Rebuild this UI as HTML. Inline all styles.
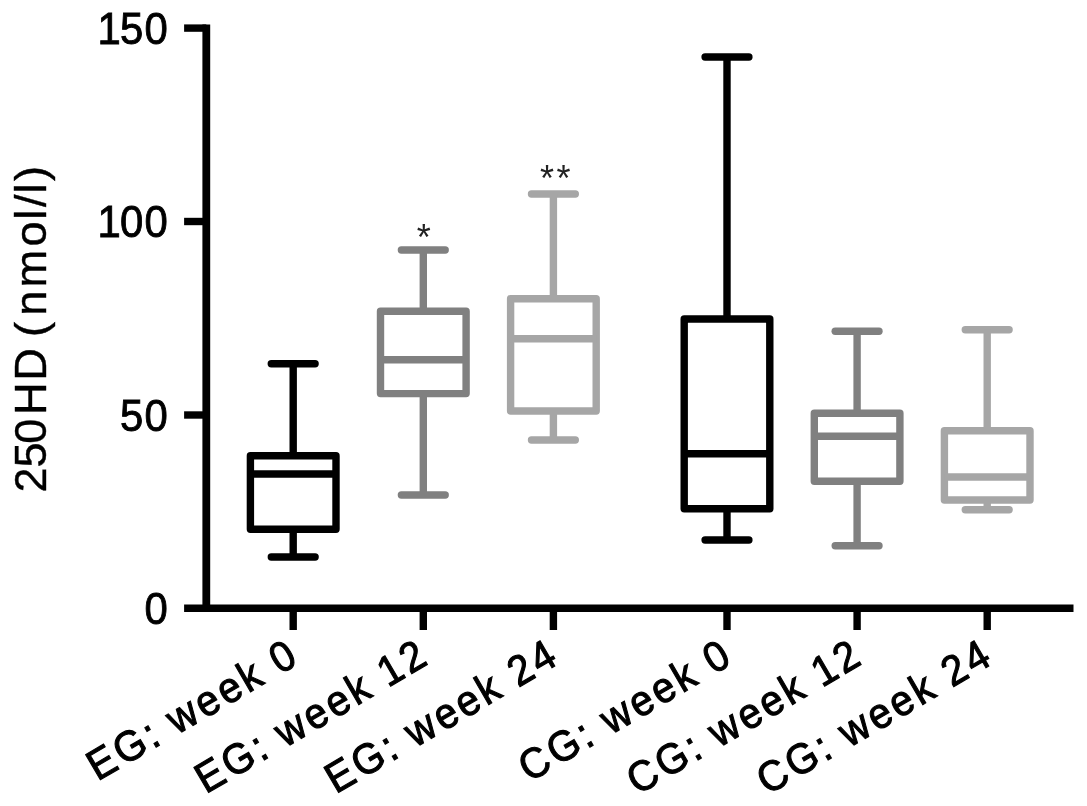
<!DOCTYPE html>
<html><head><meta charset="utf-8"><title>Box plot</title>
<style>html,body{margin:0;padding:0;background:#fff;overflow:hidden}svg{display:block}</style></head>
<body>
<svg width="1087" height="806" viewBox="0 0 1087 806">
<rect width="1087" height="806" fill="#ffffff"/>
<g stroke="#000" stroke-width="7.4" fill="none" stroke-linecap="butt">
<path d="M206.3 24.4 V612.0" stroke-width="7.8"/>
<path d="M184.1 608.3 H1073.5"/>
<path d="M184.1 28.1 H206.3"/>
<path d="M184.1 221.5 H206.3"/>
<path d="M184.1 415.0 H206.3"/>
<path d="M293.2 608.3 V630.0"/>
<path d="M423.3 608.3 V630.0"/>
<path d="M553.4 608.3 V630.0"/>
<path d="M727.0 608.3 V630.0"/>
<path d="M857.1 608.3 V630.0"/>
<path d="M987.2 608.3 V630.0"/>
</g>
<g font-family="Liberation Sans, sans-serif" font-size="44.5" fill="#000" stroke="#000" stroke-width="0.9">
<text transform="translate(0 43.8) scale(0.94 1)" x="103.8 127.6 153.6" y="0">150</text>
<text transform="translate(0 237.2) scale(0.94 1)" x="103.8 127.6 153.6" y="0">100</text>
<text transform="translate(0 430.7) scale(0.94 1)" x="127.6 153.6" y="0">50</text>
<text transform="translate(0 624.3) scale(0.94 1)" x="153.6" y="0">0</text>
</g>
<text font-family="Liberation Sans, sans-serif" font-size="45.2" fill="#000" stroke="#000" stroke-width="0.4" transform="translate(45.6 492.0) rotate(-90)" x="-0.6 24.5 48.2 77.1 111.2 143.8 155.1 176.3 204.4 245.6 272.2 284.9 298.4 311.1" y="0">250HD (nmol/l)</text>
<g stroke="#000000" stroke-width="7.4" fill="none" stroke-linecap="round" stroke-linejoin="round">
<path d="M271.3 363.8 H315.09999999999997"/>
<path d="M271.3 557 H315.09999999999997"/>
<path d="M293.2 363.8 V455.8" stroke-linecap="butt"/>
<path d="M293.2 529.3 V557" stroke-linecap="butt"/>
<rect x="250.39999999999998" y="455.8" width="85.6" height="73.49999999999994"/>
<path d="M250.39999999999998 474 H336.0" stroke-linecap="butt"/>
</g>
<g stroke="#808080" stroke-width="7.4" fill="none" stroke-linecap="round" stroke-linejoin="round">
<path d="M401.40000000000003 250 H445.2"/>
<path d="M401.40000000000003 495 H445.2"/>
<path d="M423.3 250 V311.3" stroke-linecap="butt"/>
<path d="M423.3 393.6 V495" stroke-linecap="butt"/>
<rect x="380.5" y="311.3" width="85.6" height="82.30000000000001"/>
<path d="M380.5 359.8 H466.1" stroke-linecap="butt"/>
</g>
<g stroke="#a6a6a6" stroke-width="7.4" fill="none" stroke-linecap="round" stroke-linejoin="round">
<path d="M531.5 194 H575.3"/>
<path d="M531.5 440 H575.3"/>
<path d="M553.4 194 V298.7" stroke-linecap="butt"/>
<path d="M553.4 411 V440" stroke-linecap="butt"/>
<rect x="510.59999999999997" y="298.7" width="85.6" height="112.30000000000001"/>
<path d="M510.59999999999997 338.7 H596.1999999999999" stroke-linecap="butt"/>
</g>
<g stroke="#000000" stroke-width="7.4" fill="none" stroke-linecap="round" stroke-linejoin="round">
<path d="M705.1 57 H748.9"/>
<path d="M705.1 540 H748.9"/>
<path d="M727.0 57 V319" stroke-linecap="butt"/>
<path d="M727.0 508.7 V540" stroke-linecap="butt"/>
<rect x="684.2" y="319" width="85.6" height="189.7"/>
<path d="M684.2 453.7 H769.8" stroke-linecap="butt"/>
</g>
<g stroke="#808080" stroke-width="7.4" fill="none" stroke-linecap="round" stroke-linejoin="round">
<path d="M835.2 331.3 H879.0"/>
<path d="M835.2 545.7 H879.0"/>
<path d="M857.1 331.3 V413.3" stroke-linecap="butt"/>
<path d="M857.1 481.3 V545.7" stroke-linecap="butt"/>
<rect x="814.3000000000001" y="413.3" width="85.6" height="68.0"/>
<path d="M814.3000000000001 436.3 H899.9" stroke-linecap="butt"/>
</g>
<g stroke="#a6a6a6" stroke-width="7.4" fill="none" stroke-linecap="round" stroke-linejoin="round">
<path d="M965.3000000000001 329.7 H1009.1"/>
<path d="M965.3000000000001 509.7 H1009.1"/>
<path d="M987.2 329.7 V430.7" stroke-linecap="butt"/>
<path d="M987.2 500 V509.7" stroke-linecap="butt"/>
<rect x="944.4000000000001" y="430.7" width="85.6" height="69.30000000000001"/>
<path d="M944.4000000000001 477 H1030.0" stroke-linecap="butt"/>
</g>
<g font-family="Liberation Sans, sans-serif" font-size="36" fill="#222" text-anchor="middle">
<text x="423.8" y="250">*</text>
<text x="547.0 563.4" y="191.2">**</text>
</g>
<g font-family="Liberation Sans, sans-serif" font-size="42.5" fill="#000" stroke="#000" stroke-width="1.1">
<text transform="translate(299.7 663.3) rotate(-30.3) scale(0.94 1)" x="-249.3 -217.1 -180.8 -166.4 -151.4 -117.2 -90.2 -63.3 -39.2 -24.4" y="0">EG: week 0</text>
<text transform="translate(429.8 663.3) rotate(-30.3) scale(0.94 1)" x="-276.2 -244.1 -207.8 -193.4 -178.4 -144.1 -117.2 -90.3 -66.1 -51.4 -24.4" y="0">EG: week 12</text>
<text transform="translate(559.9 663.3) rotate(-30.3) scale(0.94 1)" x="-276.2 -244.1 -207.8 -193.4 -178.4 -144.1 -117.2 -90.3 -66.1 -51.4 -24.4" y="0">EG: week 24</text>
<text transform="translate(733.5 663.3) rotate(-30.3) scale(0.94 1)" x="-251.7 -217.1 -180.8 -166.4 -151.4 -117.2 -90.2 -63.3 -39.2 -24.4" y="0">CG: week 0</text>
<text transform="translate(863.6 663.3) rotate(-30.3) scale(0.94 1)" x="-278.7 -244.1 -207.8 -193.4 -178.4 -144.1 -117.2 -90.3 -66.1 -51.4 -24.4" y="0">CG: week 12</text>
<text transform="translate(993.7 663.3) rotate(-30.3) scale(0.94 1)" x="-278.7 -244.1 -207.8 -193.4 -178.4 -144.1 -117.2 -90.3 -66.1 -51.4 -24.4" y="0">CG: week 24</text>
</g>
</svg>
</body></html>
